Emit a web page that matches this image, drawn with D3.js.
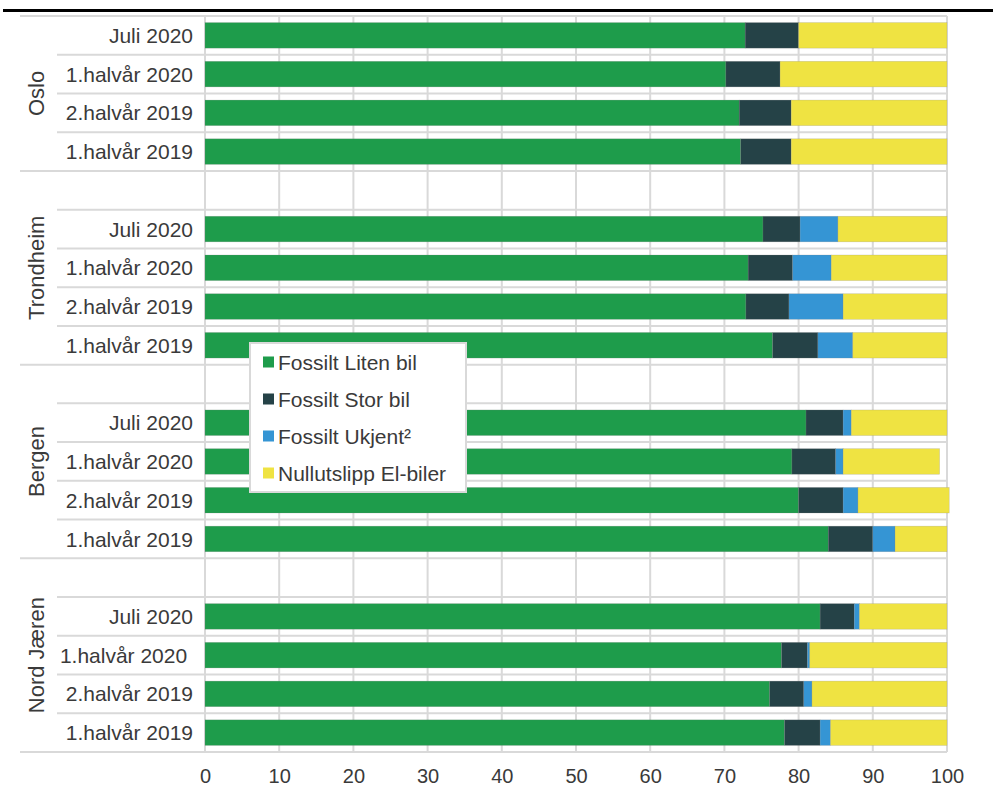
<!DOCTYPE html>
<html>
<head>
<meta charset="utf-8">
<script src="https://cdn.jsdelivr.net/npm/d3@7"></script>
<style>
  html, body { margin: 0; padding: 0; background: #fff; }
  svg { display: block; font-family: "Liberation Sans", Arial, sans-serif; }
</style>
</head>
<body>
<svg id="chart" width="993" height="789"></svg>
<script>
// Regions (outer category level) and periods (inner level), top to bottom
const regions = ["Oslo", "Trondheim", "Bergen", "Nord Jæren"];
const periodLabels = [
  "Juli 2020", "1.halvår 2020", "2.halvår 2019", "1.halvår 2019",
  "Juli 2020", "1.halvår 2020", "2.halvår 2019", "1.halvår 2019",
  "Juli 2020", "1.halvår 2020", "2.halvår 2019", "1.halvår 2019",
  "Juli 2020", "1.halvår 2020 ", "2.halvår 2019", "1.halvår 2019"
];

// Series names and colours
const seriesNames = ["Fossilt Liten bil", "Fossilt Stor bil", "Fossilt Ukjent²", "Nullutslipp El-biler"];
const seriesColors = ["#1e9c4b", "#254247", "#3595d4", "#efe342"];

// Share (%) per series, one value per period row in the order above
const fossiltLiten  = [72.8, 70.2, 72.0, 72.2,  75.2, 73.2, 72.9, 76.5,  81.0, 79.1, 80.0, 84.0,  82.9, 77.7, 76.1, 78.1];
const fossiltStor   = [ 7.2,  7.3,  7.0,  6.8,   5.0,  6.0,  5.8,  6.1,   5.0,  5.9,  6.0,  6.0,   4.6,  3.5,  4.6,  4.8];
const fossiltUkjent = [ 0.0,  0.0,  0.0,  0.0,   5.1,  5.2,  7.3,  4.7,   1.1,  1.0,  2.0,  3.0,   0.7,  0.3,  1.1,  1.4];
const nullutslipp   = [20.0, 22.5, 21.0, 21.0,  14.7, 15.6, 14.0, 12.7,  12.9, 13.0, 12.3,  7.0,  11.8, 18.5, 18.2, 15.7];

const xTicks = [0, 10, 20, 30, 40, 50, 60, 70, 80, 90, 100];

// Build the row list: a blank spacer row before every region except the first
const rows = [];
let k = 0;
regions.forEach((region, gi) => {
  if (gi > 0) rows.push({ id: "gap" + gi, region, blank: true });
  for (let p = 0; p < 4; p++, k++) {
    rows.push({
      id: "r" + k, region, blank: false, label: periodLabels[k],
      values: [fossiltLiten[k], fossiltStor[k], fossiltUkjent[k], nullutslipp[k]]
    });
  }
});

const svg = d3.select("#chart");
const plot = { left: 205, right: 947, top: 16, bottom: 752 };
const gridColor = "#d9d9d9";
const textColor = "#3a3a3a";

const x = d3.scaleLinear().domain([0, 100]).range([plot.left, plot.right]);
const y = d3.scaleBand().domain(rows.map(r => r.id)).range([plot.top, plot.bottom]).padding(0);
const barH = y.bandwidth() * 0.66;

// Heading rule
svg.append("line")
  .attr("x1", 3).attr("x2", 993).attr("y1", 10.5).attr("y2", 10.5)
  .attr("stroke", "#000").attr("stroke-width", 3);

// Vertical gridlines
svg.append("g").selectAll("line").data(xTicks).join("line")
  .attr("x1", d => x(d)).attr("x2", d => x(d))
  .attr("y1", plot.top).attr("y2", plot.bottom)
  .attr("stroke", gridColor).attr("stroke-width", 2);

// Horizontal row boundaries: plot area plus the category label table
const boundaries = d3.range(rows.length + 1).map(i => ({
  y: plot.top + i * y.step(),
  groupEdge: i === 0 || i === rows.length || (rows[i] && rows[i].blank)
}));
svg.append("g").selectAll("line").data(boundaries).join("line")
  .attr("x1", d => d.groupEdge ? 20 : 57).attr("x2", plot.right)
  .attr("y1", d => d.y).attr("y2", d => d.y)
  .attr("stroke", gridColor).attr("stroke-width", 2);

// Stacked bars
const stackData = rows.filter(r => !r.blank);
const stack = d3.stack().keys([0, 1, 2, 3]).value((d, key) => d.values[key]);
const layers = stack(stackData);
svg.append("g").selectAll("g").data(layers).join("g")
  .attr("fill", (d, i) => seriesColors[i])
  .selectAll("rect").data(d => d).join("rect")
  .attr("x", d => x(d[0]))
  .attr("width", d => Math.max(0, x(d[1]) - x(d[0])))
  .attr("y", d => y(d.data.id) + (y.bandwidth() - barH) / 2)
  .attr("height", barH)
  .attr("stroke", "rgba(128,128,128,0.35)")
  .attr("stroke-width", d => (d[1] - d[0]) > 0 ? 0.6 : 0);

// Period labels
svg.append("g").selectAll("text").data(stackData).join("text")
  .attr("x", 193)
  .attr("y", d => y(d.id) + y.bandwidth() / 2)
  .attr("dy", "0.36em")
  .attr("text-anchor", "end")
  .style("white-space", "pre")
  .attr("font-size", 21)
  .attr("fill", textColor)
  .text(d => d.label);

// Region labels, rotated, centred on each region's rows
svg.append("g").selectAll("text").data(regions).join("text")
  .attr("transform", r => {
    const rs = rows.filter(d => d.region === r);
    const y0 = y(rs[0].id), y1 = y(rs[rs.length - 1].id) + y.step();
    return `translate(36,${(y0 + y1) / 2}) rotate(-90)`;
  })
  .attr("dy", "0.36em")
  .attr("text-anchor", "middle")
  .attr("font-size", 22)
  .attr("fill", textColor)
  .text(r => r);

// Value axis
const xAxis = svg.append("g")
  .attr("transform", `translate(0,${plot.bottom})`)
  .call(d3.axisBottom(x).tickValues(xTicks).tickSize(0).tickPadding(17));
xAxis.select(".domain").remove();
xAxis.selectAll("text")
  .attr("font-family", "\"Liberation Sans\", Arial, sans-serif")
  .attr("font-size", 20)
  .attr("fill", textColor);

// Legend
const legend = svg.append("g").attr("transform", "translate(250,343)");
legend.append("rect")
  .attr("width", 216).attr("height", 149)
  .attr("fill", "#fff").attr("stroke", gridColor).attr("stroke-width", 2);
const items = legend.selectAll("g").data(seriesNames).join("g")
  .attr("transform", (d, i) => `translate(13,${19 + i * 37})`);
items.append("rect")
  .attr("x", 0).attr("y", -5.5).attr("width", 11).attr("height", 11)
  .attr("fill", (d, i) => seriesColors[i]);
items.append("text")
  .attr("x", 15).attr("dy", "0.36em")
  .attr("font-size", 21)
  .attr("fill", textColor)
  .text(d => d);
</script>
</body>
</html>
